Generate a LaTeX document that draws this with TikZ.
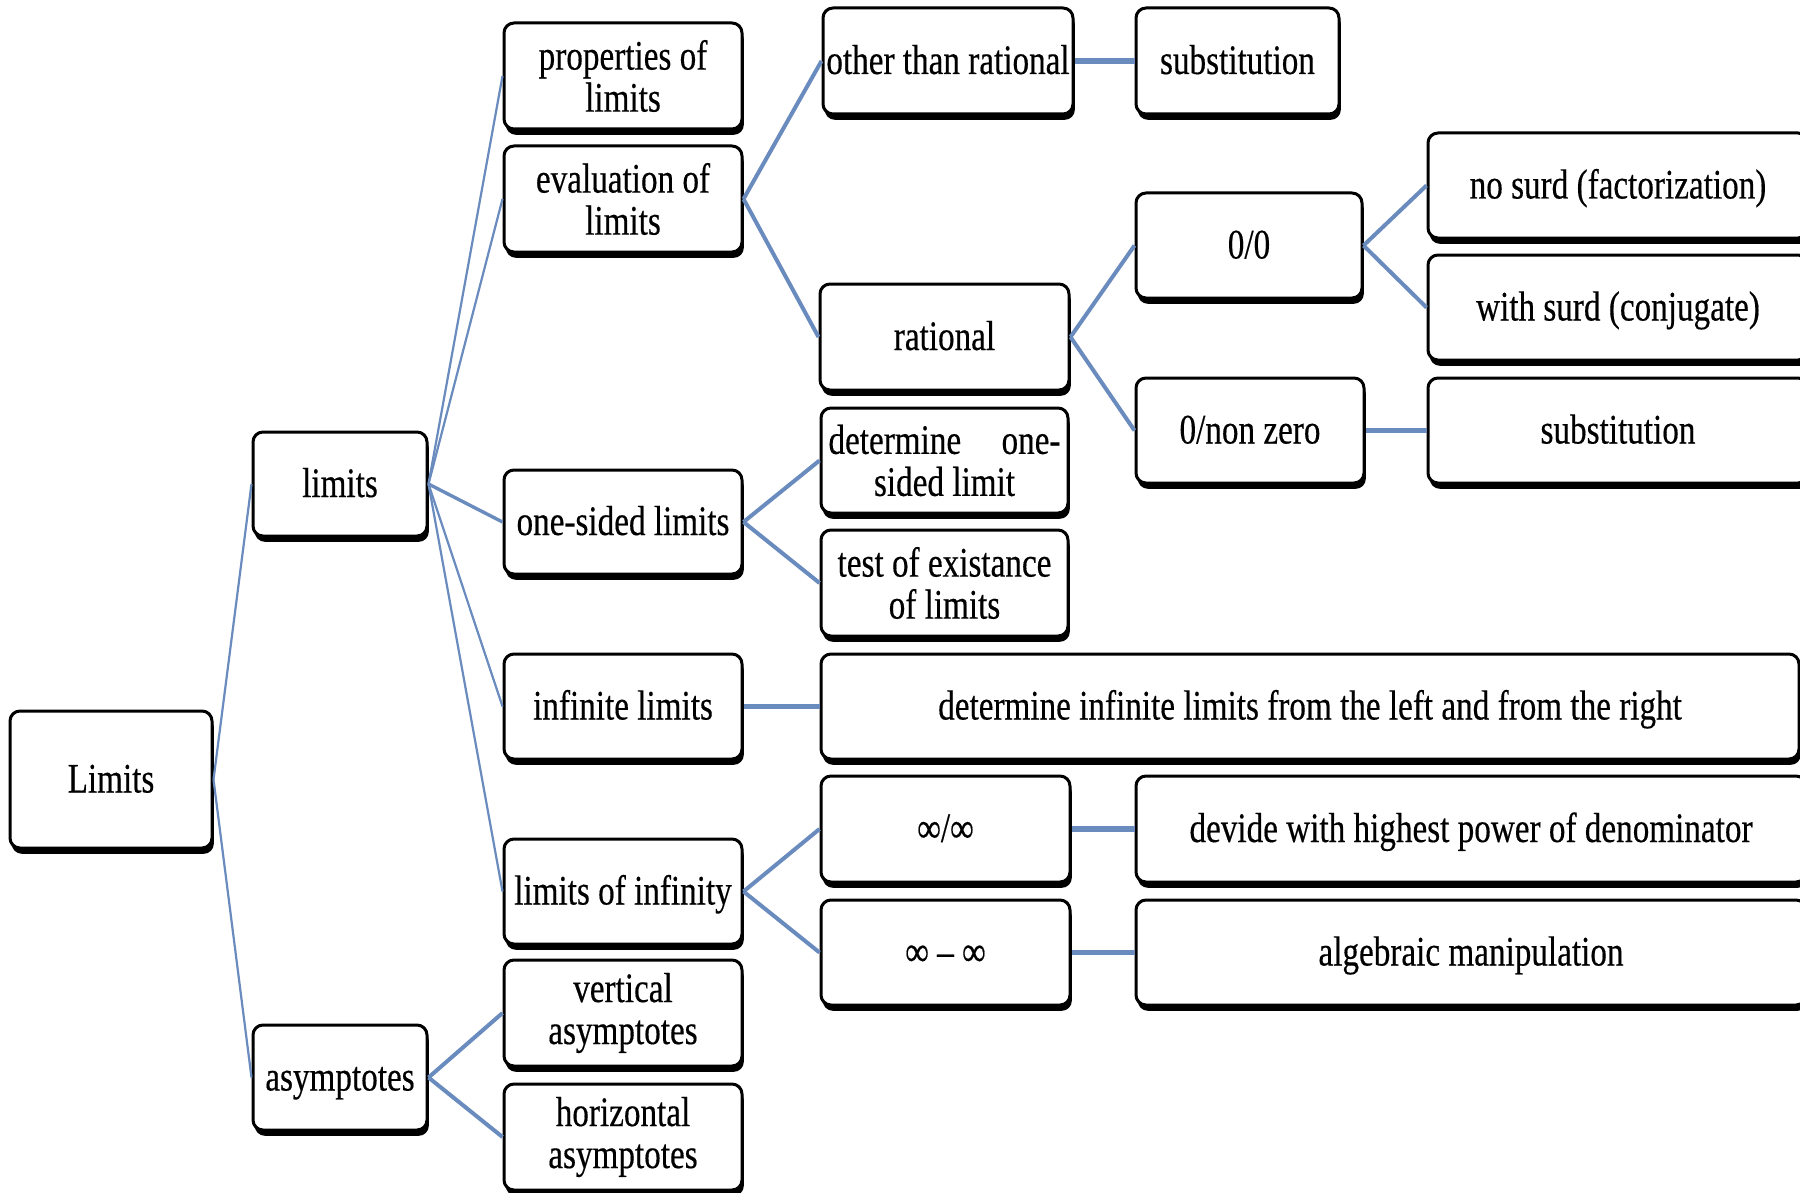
\documentclass[tikz,border=0pt]{standalone}
\usepackage{fontspec}
\setmainfont{Liberation Serif}[FakeStretch=0.79,FakeBold=0.35]
\usetikzlibrary{shadows}
\definecolor{lineblue}{RGB}{106,139,190}
\newcommand\bx[7][sline]{\node[box,#1, minimum width={(#5-#3)*0.5pt}, minimum height={(#6-#4)*0.5pt}] (#2) at ({(#3+#5)/2},{(#4+#6)/2}) {#7};}
\begin{document}
\begin{tikzpicture}[x=0.5pt,y=-0.5pt,
  box/.style={draw=black, line width=1.5pt, rounded corners=5pt, fill=white, inner sep=0pt, align=center,
    font=\fontsize{21pt}{21pt}\selectfont,
    drop shadow={shadow xshift=0.9pt, shadow yshift=-2.9pt, opacity=1, fill=black}},
  sline/.style={text height=15pt, text depth=2pt},
  mline/.style={},
  thinc/.style={draw=lineblue, line width=1.1pt},
  onec/.style={draw=lineblue, line width=1.7pt},
  midc/.style={draw=lineblue, line width=2pt},
  thickc/.style={draw=lineblue, line width=2.9pt}]
\useasboundingbox (0,0) rectangle (1800,1193);
\fill[white] (0,0) rectangle (1800,1193);
\clip (0,0) rectangle (1800,1193);
% column 1 and 2
\bx{L0}{10}{711}{212}{848}{Limits}
\bx{L1a}{253}{432}{427}{536}{limits}
\bx{L1b}{253}{1025}{427}{1130}{asymptotes}
% column 3
\bx[mline]{prop}{504}{23}{742}{129}{properties of\\limits}
\bx[mline]{eval}{504}{146}{742}{252}{evaluation of\\limits}
\bx{one}{504}{470}{742}{574}{one-sided limits}
\bx{inf}{504}{654}{742}{759}{infinite limits}
\bx{loi}{504}{839}{742}{944}{limits of infinity}
\bx[mline]{vert}{504}{960}{742}{1066}{vertical\\asymptotes}
\bx[mline]{hori}{504}{1084}{742}{1190}{horizontal\\asymptotes}
% column 4
\bx{otr}{823}{8}{1073}{114}{other than rational}
\bx{rat}{820}{284}{1069}{390}{rational}
\bx[mline]{det1}{821}{408}{1068}{513}{\makebox[116pt][s]{determine one-}\\sided limit}
\bx[mline]{test}{821}{530}{1068}{636}{test of existance\\of limits}
\bx{detinf}{821}{654}{1799}{759}{determine infinite limits from the left and from the right}
\bx{ii}{821}{776}{1070}{882}{∞/∞}
\bx{imi}{821}{900}{1070}{1005}{∞ – ∞}
% column 5
\bx{sub1}{1136}{8}{1339}{114}{substitution}
\bx{zz}{1136}{193}{1362}{298}{0/0}
\bx{znz}{1136}{378}{1364}{483}{0/non zero}
\bx{dev}{1136}{776}{1806}{882}{devide with highest power of denominator}
\bx{alg}{1136}{900}{1806}{1005}{algebraic manipulation}
% column 6
\bx{ns}{1428}{133}{1808}{238}{no surd (factorization)}
\bx{ws}{1428}{255}{1808}{360}{with surd (conjugate)}
\bx{sub2}{1428}{378}{1808}{483}{substitution}
% connectors
\draw[thinc] (L0.east) -- (L1a.west);
\draw[thinc] (L0.east) -- (L1b.west);
\draw[thinc] (L1a.east) -- (prop.west);
\draw[thinc] (L1a.east) -- (eval.west);
\draw[onec] (L1a.east) -- (one.west);
\draw[thinc] (L1a.east) -- (inf.west);
\draw[thinc] (L1a.east) -- (loi.west);
\draw[midc] (eval.east) -- (otr.west);
\draw[midc] (eval.east) -- (rat.west);
\draw[thickc] (otr.east) -- (sub1.west);
\draw[midc] (rat.east) -- (zz.west);
\draw[midc] (rat.east) -- (znz.west);
\draw[midc] (zz.east) -- (ns.west);
\draw[midc] (zz.east) -- (ws.west);
\draw[thickc] (znz.east) -- (sub2.west);
\draw[midc] (one.east) -- (det1.west);
\draw[midc] (one.east) -- (test.west);
\draw[thickc] (inf.east) -- (detinf.west);
\draw[midc] (loi.east) -- (ii.west);
\draw[midc] (loi.east) -- (imi.west);
\draw[thickc] (ii.east) -- (dev.west);
\draw[thickc] (imi.east) -- (alg.west);
\draw[midc] (L1b.east) -- (vert.west);
\draw[midc] (L1b.east) -- (hori.west);
\end{tikzpicture}
\end{document}
